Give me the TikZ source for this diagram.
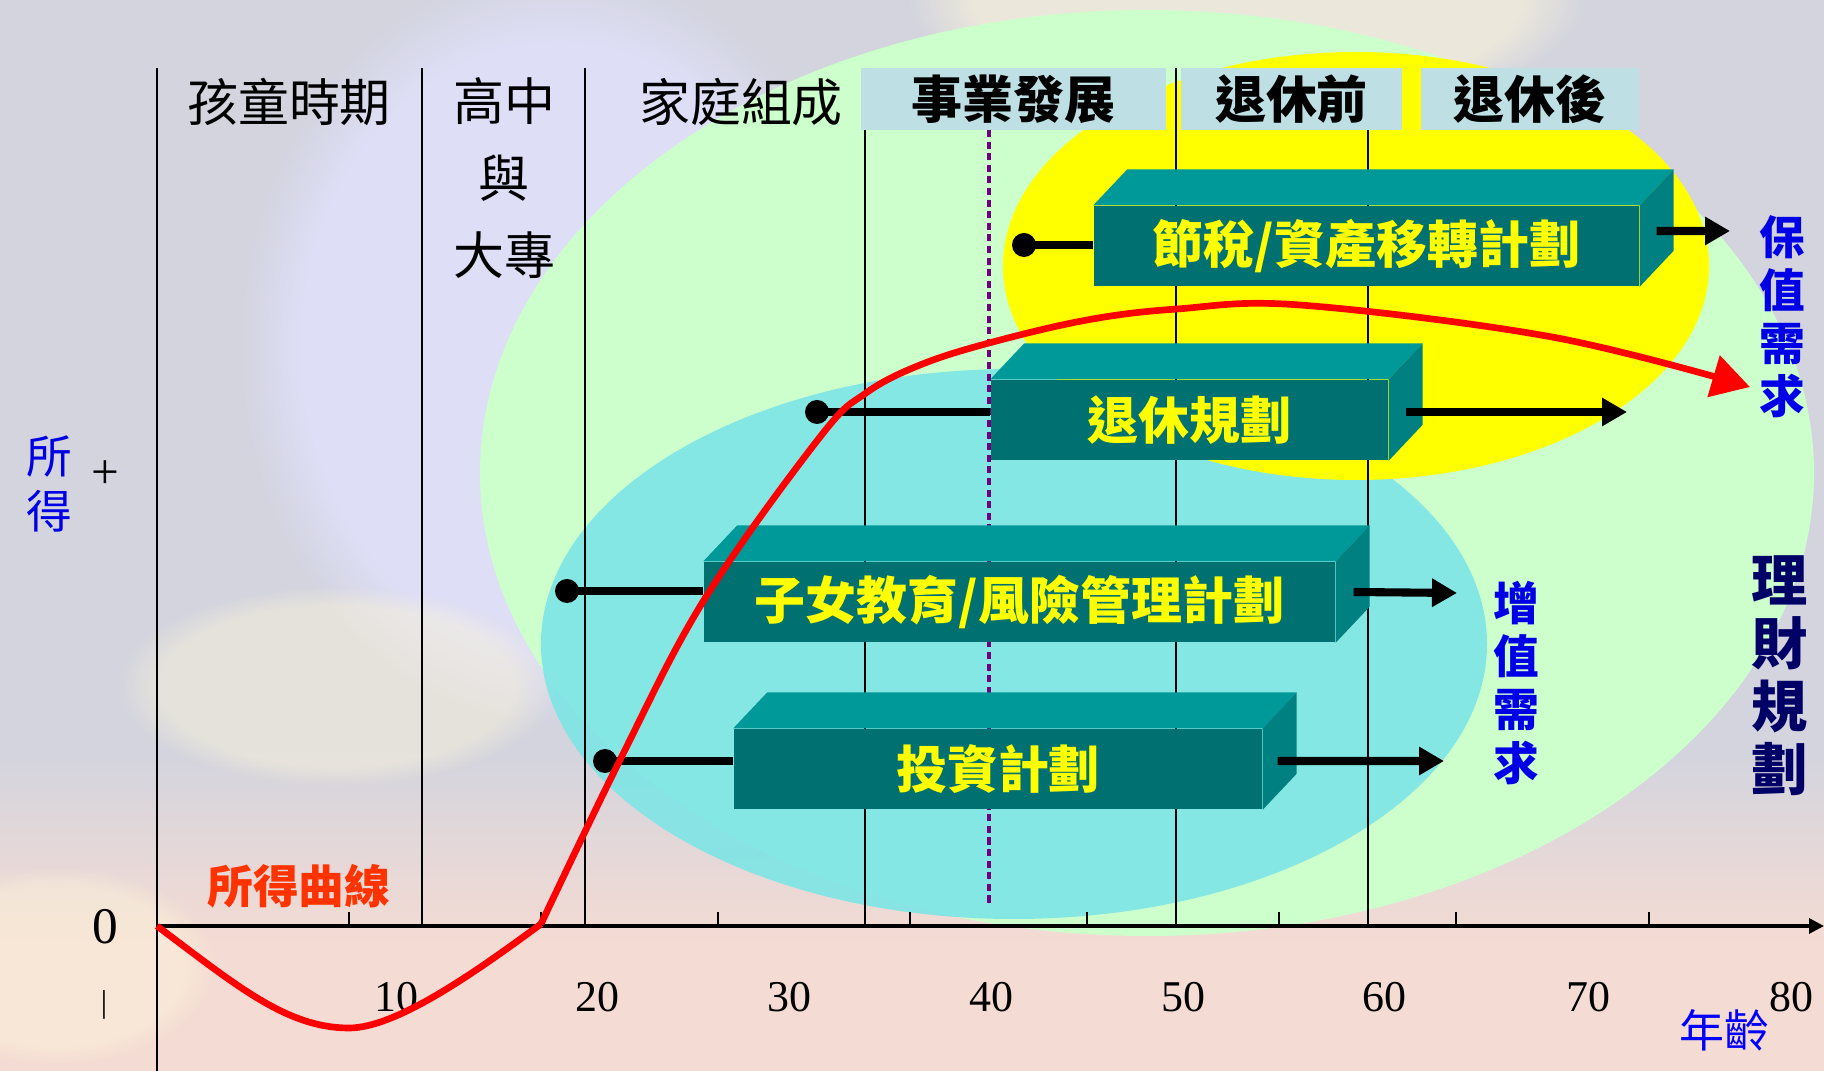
\documentclass[tikz,border=0pt]{standalone}
\usepackage{fontspec}
\setmainfont{Liberation Serif}
\newfontfamily\cjk{Noto Sans CJK TC}
\usetikzlibrary{arrows.meta,positioning,calc,fadings}

\definecolor{bggrey}{RGB}{211,212,222}
\definecolor{bgpeach}{RGB}{244,219,211}
\definecolor{bglilac}{RGB}{222,222,246}
\definecolor{bgcream}{RGB}{253,245,218}
\definecolor{lifegreen}{RGB}{204,255,204}
\definecolor{keepyellow}{RGB}{255,255,0}
\definecolor{growcyan}{RGB}{128,229,229}
\definecolor{headblue}{RGB}{190,224,228}
\definecolor{barfront}{RGB}{0,112,112}
\definecolor{bartop}{RGB}{0,153,153}
\definecolor{barside}{RGB}{0,128,128}
\definecolor{barword}{RGB}{255,255,0}
\definecolor{curvered}{RGB}{255,0,0}
\definecolor{labelred}{RGB}{255,51,0}
\definecolor{needblue}{RGB}{0,0,230}
\definecolor{plannavy}{RGB}{0,0,102}
\definecolor{markpurple}{RGB}{112,0,128}

\pgfdeclareverticalshading{sky}{100bp}{color(0bp)=(bgpeach); color(31bp)=(bgpeach);
  color(40bp)=(bggrey); color(100bp)=(bggrey)}

%% top and side faces of a bar node
\newcommand\barfaces[1]{%
  \fill[bartop] (#1.north west) -- ++(0.34,0.36) -- ($(#1.north east)+(0.34,0.36)$)
    -- (#1.north east) -- cycle;
  \fill[barside] (#1.north east) -- ++(0.34,0.36) -- ($(#1.south east)+(0.34,0.36)$)
    -- (#1.south east) -- cycle;}

\begin{document}
\begin{tikzpicture}[
  phase/.style={font=\cjk\fontsize{14.5}{21.8}\selectfont, inner sep=0pt},
  head/.style={fill=headblue, minimum height=0.62cm, inner sep=0pt,
               font=\cjk\bfseries\fontsize{14.5}{16}\selectfont},
  bar/.style={fill=barfront, minimum height=0.8cm, inner sep=0pt,
              text=barword, font=\cjk\bfseries\fontsize{14.5}{16}\selectfont},
  divider/.style={line width=0.6pt},
  axisline/.style={line width=0.9pt},
  link/.style={line width=2.3pt},
  flow/.style={line width=2.3pt, -{Triangle[length=0.25cm,width=0.27cm]}},
  dot/.style={circle, fill=black, inner sep=0pt, minimum size=0.24cm},
  need/.style={text=needblue, align=center, inner sep=0pt,
               font=\cjk\bfseries\fontsize{13}{15.1}\selectfont},
  num/.style={font=\fontsize{12.5}{14}\selectfont, inner sep=0pt},
  incurve/.style={curvered, line width=1.9pt, line join=round},
  soft/.style={path fading=circle with fuzzy edge 20 percent},
]
  \useasboundingbox (-1.57,-1.45) rectangle (16.67,9.26);

  %% Background
  \shade[shading=sky] (-1.57,-1.45) rectangle (16.67,9.26);
  \fill[bglilac, soft] (4.0,5.8) ellipse [x radius=3.2, y radius=3.8];
  \fill[bgcream, soft, fill opacity=0.6] (10.9,9.3) ellipse [x radius=3.4, y radius=1.3];
  \fill[bgcream, soft, fill opacity=0.45] (1.8,2.4) ellipse [x radius=2.2, y radius=1.0];
  \fill[bgcream, soft, fill opacity=0.45] (-1.0,-0.4) ellipse [x radius=1.6, y radius=1.0];

  %% Planning areas
  \fill[lifegreen] (9.90,4.53) ellipse [x radius=6.67, y radius=4.63];
  \fill[growcyan, opacity=0.92] (8.57,2.82) ellipse [x radius=4.73, y radius=2.75];
  \fill[keepyellow] (11.99,6.60) ellipse [x radius=3.53, y radius=2.14];

  %% Life stage dividers and axes
  \foreach \x in {2.65, 4.28, 7.08, 10.19, 12.11}
    \draw[divider] (\x, 8.58) -- (\x, 0);
  \draw[divider] (0, 8.58) -- (0, -1.45);
  \draw[markpurple, line width=1pt, dash pattern=on 2pt off 1.3pt] (8.32, 7.96) -- (8.32, 0.19);
  \draw[axisline, -{Triangle[length=0.15cm,width=0.15cm]}] (0, 0) -- (16.67, 0);
  \foreach \x in {1.92, 3.84, 5.61, 7.53, 9.30, 11.22, 12.99, 14.92}
    \draw[divider] (\x, 0) -- (\x, 0.14);

  %% Age numbers
  \foreach \x/\n in {2.39/10, 4.40/20, 6.32/30, 8.34/40, 10.26/50, 12.27/60, 14.31/70, 16.34/80}
    \node[num] (age\n) at (\x, -0.71) {\n};

  %% Income axis marks
  \node[font=\fontsize{14}{16}\selectfont, inner sep=0pt] (plus) at (-0.52, 4.51) {+};
  \node[font=\fontsize{14.6}{16}\selectfont, inner sep=0pt] (zero) at (-0.52, -0.01) {0};
  \node[font=\fontsize{9}{10}\selectfont, inner sep=0pt] (minus) at (-0.53, -0.79) {|};
  \node[font=\cjk\fontsize{13}{15.6}\selectfont, text=needblue, align=center, inner sep=0pt]
    (income) at (-1.08, 4.42) {所\\得};
  \node[font=\cjk\fontsize{12.8}{14}\selectfont, text=blue, inner sep=0pt]
    (agename) at (15.67, -1.04) {年齡};

  %% Life stages
  \node[phase] (child) at (1.32, 8.24) {孩童時期};
  \node[phase, align=center] (school) at (3.47, 7.48) {高中\\與\\大專};
  \node[phase] (family) at (5.84, 8.24) {家庭組成};
  \node[head, minimum width=3.05cm] (career) at (8.565, 8.27) {事業發展};
  \node[head, minimum width=2.21cm] (preret) at (11.345, 8.27) {退休前};
  \node[head, minimum width=2.18cm] (postret) at (13.73, 8.27) {退休後};

  %% Plan bars
  \node[bar, minimum width=5.45cm] (taxbar) at (12.095, 6.80) {節稅/資產移轉計劃};
  \node[bar, minimum width=3.97cm] (retirebar) at (10.325, 5.06) {退休規劃};
  \node[bar, minimum width=6.31cm] (edubar) at (8.625, 3.24) {子女教育/風險管理計劃};
  \node[bar, minimum width=5.28cm] (investbar) at (8.41, 1.57) {投資計劃};
  \barfaces{taxbar}
  \barfaces{retirebar}
  \barfaces{edubar}
  \barfaces{investbar}

  %% Start dots and time spans
  \node[dot] (taxdot) at (8.67, 6.81) {};
  \node[dot] (retiredot) at (6.60, 5.14) {};
  \node[dot] (edudot) at (4.10, 3.35) {};
  \node[dot] (investdot) at (4.48, 1.65) {};
  \draw[link] (taxdot.center) -- (taxdot.center -| taxbar.west);
  \draw[link] (retiredot.center) -- (retiredot.center -| retirebar.west);
  \draw[link] (edudot.center) -- (edudot.center -| edubar.west);
  \draw[link] (investdot.center) -- (investdot.center -| investbar.west);

  \coordinate (taxend) at (15.73, 6.95);
  \coordinate (retireend) at (14.70, 5.14);
  \coordinate (eduend) at (13.00, 3.33);
  \coordinate (investend) at (12.87, 1.65);
  \draw[flow] ([shift={(0.17,0.15)}]taxbar.east) -- (taxend);
  \draw[flow] ([shift={(0.17,0.08)}]retirebar.east) -- (retireend);
  \draw[flow] ([shift={(0.18,0.10)}]edubar.east) -- (eduend);
  \draw[flow] ([shift={(0.15,0.08)}]investbar.east) -- (investend);

  %% Income curve
  \draw[incurve] (0,0) .. controls (0.8,-0.6) and (1.3,-1.02) .. (1.92,-1.02)
    .. controls (2.4,-1.02) and (3.2,-0.45) .. (3.84,0.02);
  \draw[incurve, -{Triangle[length=0.38cm,width=0.42cm]}] plot[smooth, tension=0.6] coordinates
    {(3.84,0.02) (4.63,1.66) (5.47,3.26) (6.63,4.89) (7.09,5.33) (7.63,5.61) (8.32,5.83)
     (9.30,6.06) (10.20,6.17) (11.43,6.21) (13.95,5.89) (15.93,5.39)};
  \node[font=\cjk\bfseries\fontsize{13}{15}\selectfont, text=labelred, inner sep=0pt]
    (curvename) at (1.42, 0.40) {所得曲線};

  %% Needs
  \node[need] (keepneed) at (16.25, 6.09) {保\\值\\需\\求};
  \node[need] (growneed) at (13.59, 2.43) {增\\值\\需\\求};
  \node[need, text=plannavy, font=\cjk\bfseries\fontsize{16}{17.9}\selectfont]
    (planning) at (16.23, 2.50) {理\\財\\規\\劃};
\end{tikzpicture}
\end{document}
